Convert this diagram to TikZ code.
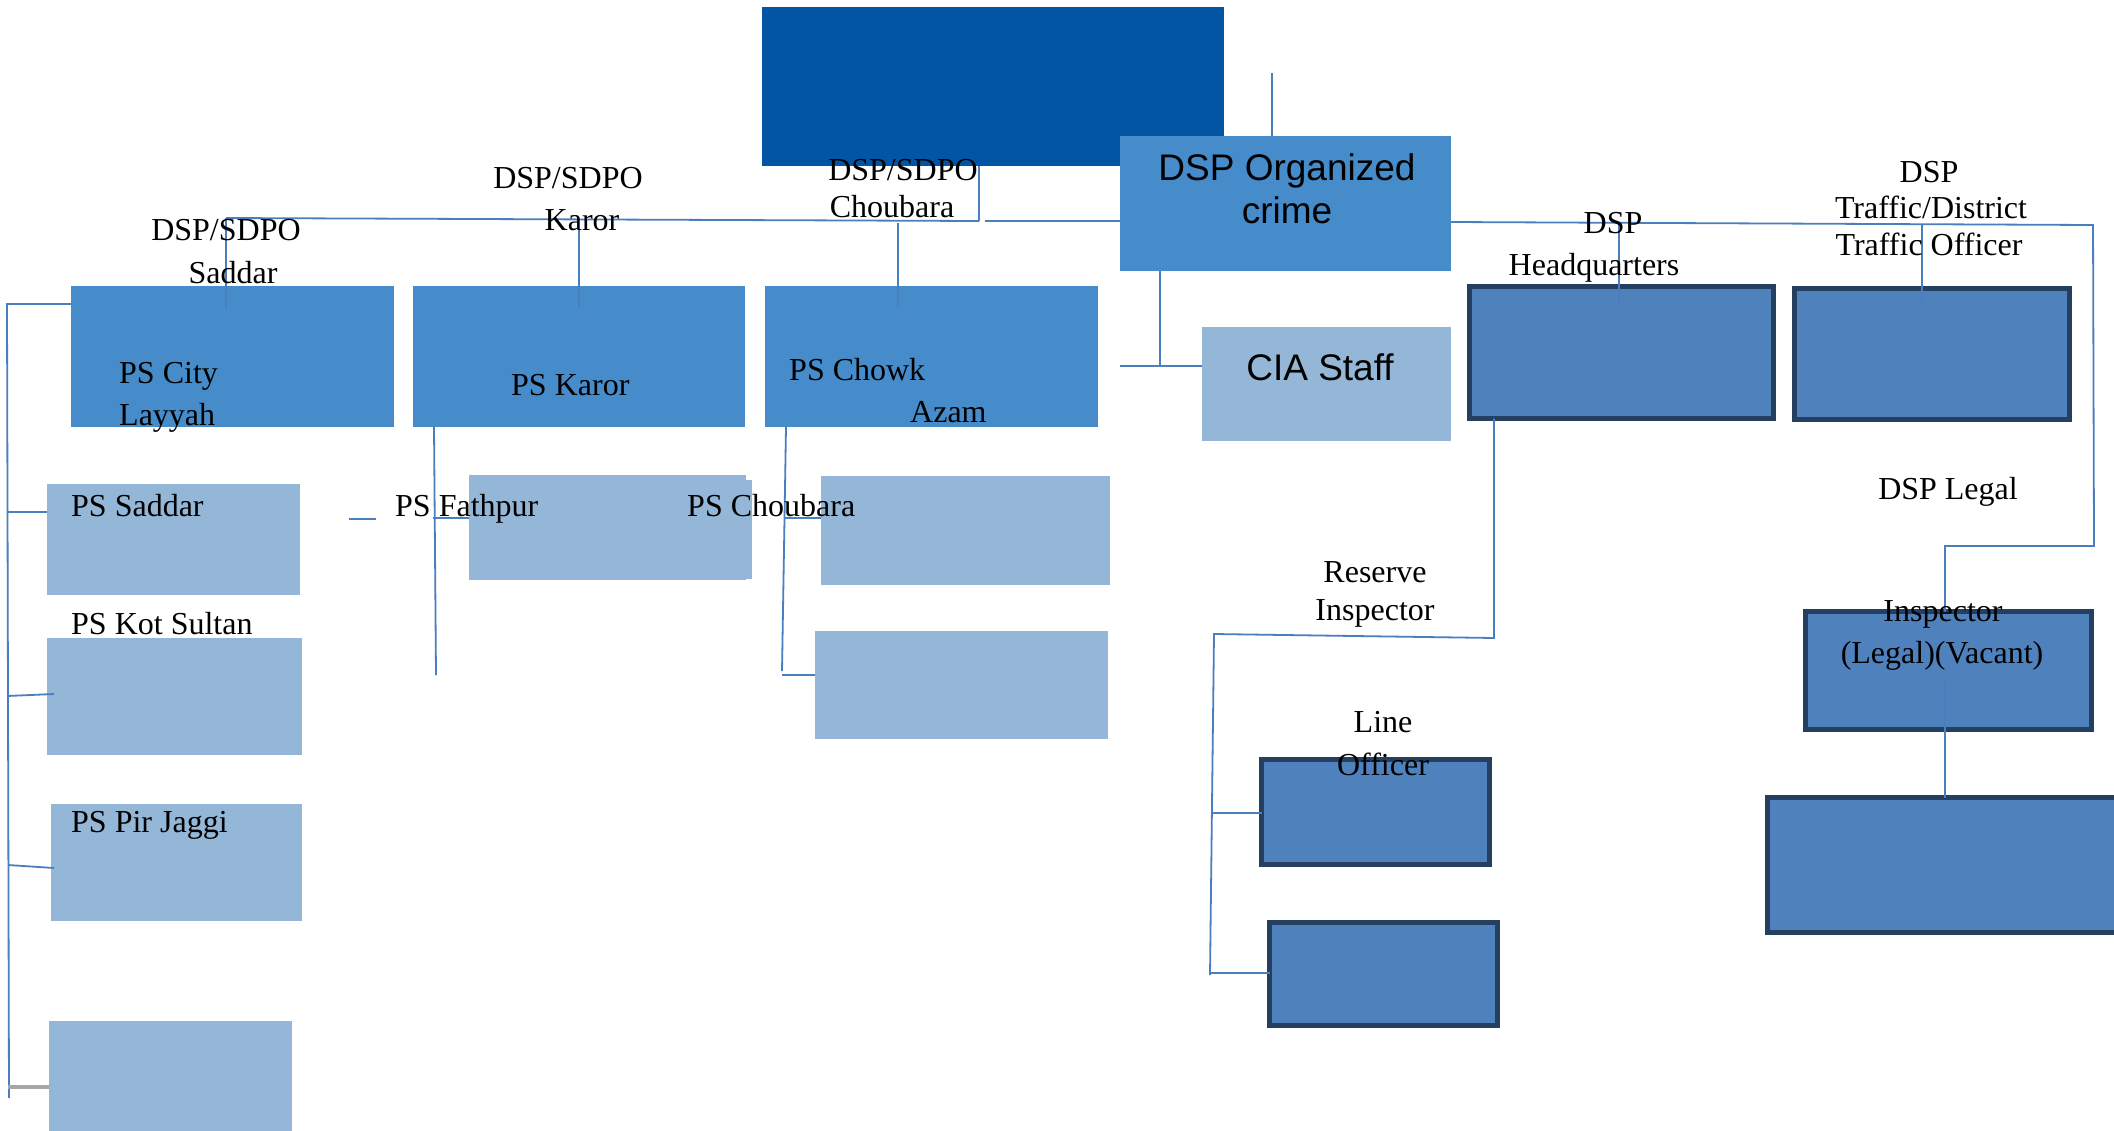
\documentclass[tikz,border=0pt]{standalone}
\usepackage{fontspec}
\setmainfont{Liberation Serif}
\newfontfamily\arialf{Liberation Sans}
\definecolor{topblue}{HTML}{0255A5}
\definecolor{midblue}{HTML}{468BCA}
\definecolor{lightblue}{HTML}{95B7D7}
\definecolor{darkfill}{HTML}{4F81BD}
\definecolor{darkedge}{HTML}{243F60}
\definecolor{conn}{HTML}{4A7EBF}
\definecolor{grayconn}{HTML}{A6A6A6}
\tikzset{
  boxbase/.style={rectangle, inner sep=0pt, outer sep=0pt, anchor=north west, draw=none},
  topbox/.style={boxbase, fill=topblue},
  midbox/.style={boxbase, fill=midblue},
  lightbox/.style={boxbase, fill=lightblue},
  darkbox/.style={boxbase, fill=darkfill, draw=darkedge, line width=5pt},
  link/.style={draw=conn, line width=1.8pt},
  graylink/.style={draw=grayconn, line width=4pt},
  serif/.style={font=\fontsize{32}{42}\selectfont, inner sep=0pt, text=black},
  sans/.style={font=\arialf\fontsize{37}{43}\selectfont, inner sep=0pt, text=black},
}
\newcommand\plainbox[6]{\node[#2, minimum width={(#5)-(#3)}, minimum height={(#6)-(#4)}] (#1) at (#3,#4) {};}
\newcommand\edgebox[6]{\node[darkbox, minimum width={(#5)-(#3)-5}, minimum height={(#6)-(#4)-5}] (#1) at ({#3+2.5},{#4+2.5}) {};}
\begin{document}
\begin{tikzpicture}[x=1pt,y=-1pt]
\useasboundingbox (0,0) rectangle (2114,1130);
\fill[white] (0,0) rectangle (2114,1130);
% boxes
\plainbox{top}{topbox}{762}{7}{1224}{166}
\plainbox{doc}{midbox}{1120}{136}{1451}{271}
\plainbox{cia}{lightbox}{1202}{327}{1451}{441}
\plainbox{city}{midbox}{71}{286}{394}{427}
\plainbox{karor}{midbox}{413}{286}{745}{427}
\plainbox{chowk}{midbox}{765}{286}{1098}{427}
\plainbox{saddar}{lightbox}{47}{484}{300}{595}
\plainbox{kot}{lightbox}{47}{638}{302}{755}
\plainbox{pir}{lightbox}{51}{804}{302}{921}
\plainbox{lastleft}{lightbox}{49}{1021}{292}{1135}
\plainbox{fath}{lightbox}{469}{475}{746}{580}
\plainbox{fathb}{lightbox}{700}{480}{752}{579}
\plainbox{chbA}{lightbox}{821}{476}{1110}{585}
\plainbox{chbB}{lightbox}{815}{631}{1108}{739}
\edgebox{hq}{darkbox}{1467}{284}{1776}{421}
\edgebox{traffic}{darkbox}{1792}{286}{2072}{422}
\edgebox{lineoff}{darkbox}{1259}{757}{1492}{867}
\edgebox{lineoffB}{darkbox}{1267}{920}{1500}{1028}
\edgebox{insp}{darkbox}{1803}{609}{2094}{732}
\edgebox{legalB}{darkbox}{1765}{795}{2130}{935}
% connectors
\draw[link] (1272,73) -- (doc.north -| 1272,0);
\draw[link] (226,218) -- (979,221);
\draw[link] (top.south -| 979,0) -- (979,221);
\draw[link] (985,221) -- (doc.west |- 0,221);
\draw[link] (226,218) -- (226,308);
\draw[link] (579,230) -- (579,307);
\draw[link] (898,223) -- (898,307);
\draw[link] (doc.east |- 0,222) -- (2093,225) -- (2094,546) -- (1945,546) -- (insp.north -| 1945,0);
\draw[link] (1945,680) -- (legalB.north -| 1945,0);
\draw[link] (1619,223) -- (1619,307);
\draw[link] (1922,225) -- (1922,308);
\draw[link] (doc.south -| 1160,0) -- (1160,366);
\draw[link] (1120,366) -- (cia.west |- 0,366);
% left bus
\draw[link] (city.west |- 0,304) -- (7,304) -- (9,1098);
\draw[link] (7,512) -- (saddar.west |- 0,512);
\draw[link] (7,696) -- (54,694);
\draw[link] (8,865) -- (54,868);
\draw[graylink] (8,1087) -- (lastleft.west |- 0,1087);
% middle columns
\draw[link] (349,519) -- (376,519);
\draw[link] (karor.south -| 434,0) -- (436,675);
\draw[link] (433,518) -- (fath.west |- 0,518);
\draw[link] (chowk.south -| 786,0) -- (782,671);
\draw[link] (784,518) -- (chbA.west |- 0,518);
\draw[link] (782,675) -- (chbB.west |- 0,675);
% HQ branch
\draw[link] (hq.south -| 1494,0) -- (1494,638) -- (1214,634) -- (1210,975);
\draw[link] (1213,813) -- (lineoff.west |- 0,813);
\draw[link] (1210,973) -- (lineoffB.west |- 0,973);
% texts
\node[sans, anchor=base] (tdoc1) at (1287,180) {DSP Organized};
\node[sans, anchor=base] (tdoc2) at (1287,223) {crime};
\node[sans, anchor=base] (tcia) at (1320,380) {CIA Staff};
\node[serif, anchor=base] (tsa1) at (226,240) {DSP/SDPO};
\node[serif, anchor=base] (tsa2) at (233,283) {Saddar};
\node[serif, anchor=base] (tka1) at (568,188) {DSP/SDPO};
\node[serif, anchor=base] (tka2) at (582,230) {Karor};
\node[serif, anchor=base] (tch1) at (903,180) {DSP/SDPO};
\node[serif, anchor=base] (tch2) at (892,217) {Choubara};
\node[serif, anchor=base west] (tcity1) at (119,383) {PS City};
\node[serif, anchor=base west] (tcity2) at (119,425) {Layyah};
\node[serif, anchor=base west] (tkaror) at (511,395) {PS Karor};
\node[serif, anchor=base west] (tchowk1) at (789,380) {PS Chowk};
\node[serif, anchor=base west] (tchowk2) at (910,422) {Azam};
\node[serif, anchor=base] (thq1) at (1613,233) {DSP};
\node[serif, anchor=base] (thq2) at (1594,275) {Headquarters};
\node[serif, anchor=base] (ttr1) at (1929,182) {DSP};
\node[serif, anchor=base] (ttr2) at (1931,218) {Traffic/District};
\node[serif, anchor=base] (ttr3) at (1929,255) {Traffic Officer};
\node[serif, anchor=base west] (tsaddar) at (71,516) {PS Saddar};
\node[serif, anchor=base west] (tkot) at (71,634) {PS Kot Sultan};
\node[serif, anchor=base west] (tpir) at (71,832) {PS Pir Jaggi};
\node[serif, anchor=base west] (tfath) at (395,516) {PS Fathpur};
\node[serif, anchor=base west] (tchb) at (687,516) {PS Choubara};
\node[serif, anchor=base] (tlegal) at (1948,499) {DSP Legal};
\node[serif, anchor=base] (tri1) at (1375,582) {Reserve};
\node[serif, anchor=base] (tri2) at (1375,620) {Inspector};
\node[serif, anchor=base] (tlo1) at (1383,732) {Line};
\node[serif, anchor=base] (tlo2) at (1383,775) {Officer};
\node[serif, anchor=base] (tin1) at (1943,621) {Inspector};
\node[serif, anchor=base] (tin2) at (1942,663) {(Legal)(Vacant)};
\end{tikzpicture}
\end{document}
